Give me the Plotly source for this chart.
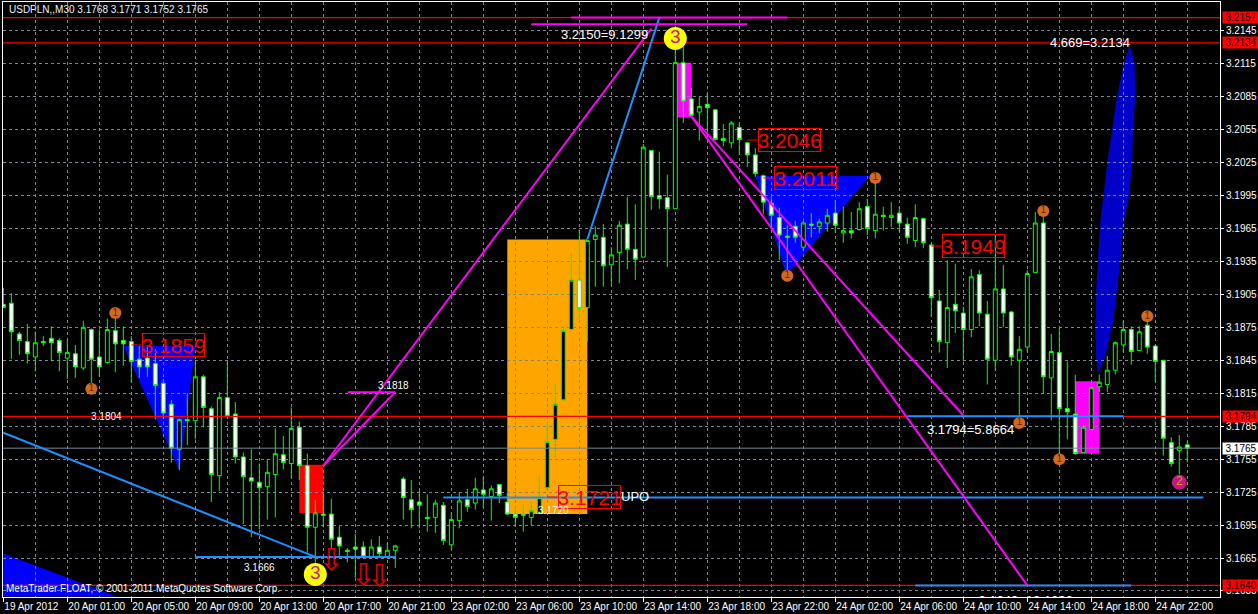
import plotly.graph_objects as go

# ---- candles -------------------------------------------------------------
opens = [3.1896,3.1897,3.1869,3.1862,3.1848,3.1862,3.1865,3.1863,3.1847,3.1851,
         3.1838,3.1873,3.1848,3.1843,3.1872,3.1863,3.1862,3.1846,3.1847,3.1842,
         3.1824,3.1805,3.1764,3.1791,3.1790,3.1830,3.1801,3.1740,3.1811,3.1796,
         3.1757,3.1738,3.1734,3.1730,3.1741,3.1759,3.1751,3.1784,3.1749,3.1693,
         3.1705,3.1705,3.1684,3.1672,3.1675,3.1675,3.1666,3.1675,3.1666,3.1672,
         3.1737,3.1718,3.1716,3.1702,3.1702,3.1713,3.1677,3.1699,3.1718,3.1715,
         3.1727,3.1721,3.1732,3.1716,3.1705,3.1705,3.1702,3.1706,3.1729,3.1773,
         3.1809,3.1873,3.1918,3.1893,3.1955,3.1957,3.1932,3.1943,3.1969,3.1946,
         3.1939,3.2036,3.1995,3.1993,3.1983,3.2116,3.2083,3.2071,3.2078,3.2073,
         3.2047,3.2043,3.2057,3.2043,3.2032,3.2013,3.1988,3.1975,3.1958,3.1967,
         3.1948,3.1969,3.1967,3.1970,3.1979,3.1961,3.1963,3.1964,3.1985,3.1963,
         3.1977,3.1975,3.1979,3.1969,3.1954,3.1974,3.1950,3.1899,3.1861,3.1896,
         3.1888,3.1873,3.1923,3.1887,3.1845,3.1910,3.1889,3.1845,3.1857,3.1925,
         3.1970,3.1829,3.1852,3.1801,3.1796,3.1761,3.1782,3.1821,3.1823,3.1836,
         3.1859,3.1873,3.1854,3.1877,3.1858,3.1845,3.1770,3.1763,3.1768]
closes = [3.1893,3.1871,3.1863,3.1851,3.1861,3.1861,3.1861,3.1852,3.1852,3.1839,
          3.1875,3.1846,3.1839,3.1873,3.1860,3.1860,3.1844,3.1839,3.1839,3.1822,
          3.1797,3.1765,3.1791,3.1790,3.1830,3.1802,3.1741,3.1811,3.1794,3.1757,
          3.1739,3.1735,3.1729,3.1743,3.1760,3.1752,3.1783,3.1749,3.1693,3.1706,
          3.1704,3.1682,3.1676,3.1671,3.1673,3.1666,3.1675,3.1669,3.1672,3.1676,
          3.1720,3.1709,3.1713,3.1701,3.1715,3.1681,3.1700,3.1717,3.1712,3.1728,
          3.1723,3.1728,3.1722,3.1705,3.1702,3.1704,3.1708,3.1720,3.1771,3.1805,
          3.1872,3.1918,3.1892,3.1954,3.1959,3.1931,3.1941,3.1968,3.1946,3.1937,
          3.2039,3.1994,3.1992,3.1983,3.2116,3.2081,3.2068,3.2076,3.2075,3.2046,
          3.2045,3.2061,3.2046,3.2032,3.2015,3.1989,3.1977,3.1959,3.1957,3.1957,
          3.1970,3.1968,3.1971,3.1977,3.1968,3.1963,3.1961,3.1983,3.1965,3.1978,
          3.1976,3.1977,3.1970,3.1957,3.1975,3.1952,3.1902,3.1862,3.1893,3.1890,
          3.1873,3.1921,3.1888,3.1846,3.1910,3.1888,3.1848,3.1855,3.1924,3.1970,
          3.1830,3.1853,3.1801,3.1798,3.1760,3.1784,3.1820,3.1825,3.1836,3.1861,
          3.1873,3.1853,3.1871,3.1857,3.1844,3.1774,3.1751,3.1766,3.1765]
highs = [3.1911,3.1906,3.1871,3.1878,3.1871,3.1867,3.1876,3.1865,3.1864,3.1859,
         3.1881,3.1874,3.1873,3.1883,3.1888,3.1876,3.1867,3.1858,3.1857,3.1855,
         3.1828,3.1809,3.1792,3.1815,3.1845,3.1832,3.1803,3.1816,3.1845,3.1807,
         3.1761,3.1764,3.1751,3.1755,3.1783,3.1776,3.1802,3.1789,3.1760,3.1718,
         3.1724,3.1719,3.1694,3.1674,3.1687,3.1680,3.1682,3.1685,3.1679,3.1677,
         3.1739,3.1736,3.1726,3.1723,3.1718,3.1716,3.1706,3.1725,3.1728,3.1738,
         3.1739,3.1731,3.1732,3.1724,3.1711,3.1714,3.1716,3.1740,3.1788,3.1824,
         3.1876,3.1943,3.1964,3.1954,3.1967,3.1969,3.1948,3.1972,3.1994,3.1987,
         3.2042,3.2036,3.2035,3.2014,3.2128,3.2131,3.2093,3.2085,3.2088,3.2074,
         3.2060,3.2063,3.2061,3.2044,3.2038,3.2014,3.1994,3.1984,3.1968,3.1972,
         3.1972,3.1979,3.1974,3.1983,3.1991,3.1985,3.1980,3.1989,3.1992,3.2016,
         3.1985,3.1989,3.1985,3.1975,3.1987,3.1975,3.1952,3.1909,3.1936,3.1933,
         3.1894,3.1928,3.1927,3.1899,3.1959,3.1932,3.1890,3.1867,3.1927,3.1980,
         3.1982,3.1869,3.1875,3.1844,3.1832,3.1786,3.1821,3.1832,3.1849,3.1862,
         3.1881,3.1876,3.1876,3.1885,3.1859,3.1845,3.1775,3.1777,3.1771]
lows = [3.1893,3.1846,3.1850,3.1842,3.1835,3.1858,3.1844,3.1835,3.1828,3.1829,
        3.1836,3.1818,3.1830,3.1842,3.1834,3.1840,3.1825,3.1829,3.1830,3.1791,
        3.1793,3.1752,3.1745,3.1768,3.1773,3.1784,3.1716,3.1726,3.1792,3.1751,
        3.1696,3.1684,3.1691,3.1700,3.1702,3.1746,3.1738,3.1736,3.1670,3.1659,
        3.1693,3.1674,3.1667,3.1661,3.1647,3.1666,3.1665,3.1666,3.1666,3.1656,
        3.1700,3.1692,3.1692,3.1689,3.1688,3.1677,3.1673,3.1692,3.1707,3.1709,
        3.1711,3.1699,3.1715,3.1704,3.1694,3.1689,3.1695,3.1705,3.1728,3.1756,
        3.1808,3.1873,3.1880,3.1862,3.1912,3.1912,3.1914,3.1915,3.1928,3.1918,
        3.1939,3.1982,3.1983,3.1930,3.1983,3.2061,3.2066,3.2045,3.2052,3.2045,
        3.2040,3.2038,3.2032,3.2021,3.2012,3.1978,3.1965,3.1936,3.1921,3.1952,
        3.1945,3.1957,3.1961,3.1962,3.1961,3.1952,3.1956,3.1963,3.1959,3.1956,
        3.1963,3.1966,3.1962,3.1951,3.1948,3.1947,3.1885,3.1852,3.1838,3.1870,
        3.1844,3.1866,3.1876,3.1823,3.1836,3.1875,3.1840,3.1793,3.1852,3.1925,
        3.1815,3.1790,3.1751,3.1773,3.1759,3.1761,3.1782,3.1816,3.1816,3.1832,
        3.1852,3.1841,3.1854,3.1851,3.1826,3.1758,3.1748,3.1741,3.1752]
bars = list(range(len(opens)))

# ---- axes ----------------------------------------------------------------
x_tick_bars = [0,8,16,24,32,40,48,56,64,72,80,88,96,104,112,120,128,136,144]
x_tick_text = ["19 Apr 2012","20 Apr 01:00","20 Apr 05:00","20 Apr 09:00","20 Apr 13:00",
               "20 Apr 17:00","20 Apr 21:00","23 Apr 02:00","23 Apr 06:00","23 Apr 10:00",
               "23 Apr 14:00","23 Apr 18:00","23 Apr 22:00","24 Apr 02:00","24 Apr 06:00",
               "24 Apr 10:00","24 Apr 14:00","24 Apr 18:00","24 Apr 22:00"]
y_ticks = [3.2145,3.2115,3.2085,3.2055,3.2025,3.1995,3.1965,3.1935,3.1905,3.1875,3.1845,
           3.1815,3.1785,3.1755,3.1725,3.1695,3.1665,3.1635]
y_tick_text = ["%.4f" % v for v in y_ticks]
x_range = [-0.04, 152.09]
y_range = [3.16295, 3.21712]

# ---- price levels --------------------------------------------------------
red_levels = [3.2157, 3.2134, 3.1794, 3.1640]
bid_level = 3.1765

# ---- filled zones: bar from, bar to, price low, price high, colour --------
zone_x0 = [37, 63, 84, 134]
zone_x1 = [40, 73, 86, 137]
zone_lo = [3.1706, 3.1705, 3.2066, 3.1760]
zone_hi = [3.1750, 3.1955, 3.2116, 3.1826]
zone_col = ["#ff0000", "#ffa500", "#ff00ff", "#ff00ff"]

# ---- blue patterns -------------------------------------------------------
tri_bars = [[15, 24, 22], [94, 108.3, 97.9], [0, 14.2, 0]]
tri_prices = [[3.1858, 3.1858, 3.1745], [3.2013, 3.2013, 3.1922], [3.1669, 3.1630, 3.1630]]
leaf_bars = [140.8,141.4,141.5,141.2,141.1,140.7,140,139.7,139.2,138.7,137.7,136.8,
             136.6,136.5,136.6,137.1,137.5,138,138.6,139.2,140.1]
leaf_prices = [3.2132,3.2116,3.2085,3.2055,3.2025,3.1994,3.1970,3.1939,3.1909,3.1879,3.1848,3.1832,
               3.1848,3.1870,3.1909,3.1970,3.1994,3.2025,3.2055,3.2085,3.2116]

# ---- trend lines ---------------------------------------------------------
blue_bars = [[0,39],[24,49],[55,150],[73,82],[113,140],[114,141]]
blue_prices = [[3.1779,3.1666],[3.1666,3.1666],[3.1720,3.1720],[3.1955,3.2157],
               [3.1794,3.1794],[3.1640,3.1640]]
magenta_bars = [[43.05,49,40],[40,81],[71,98],[66,93],[86,120],[86,128]]
magenta_prices = [[3.1816,3.1816,3.1749],[3.1749,3.2147],[3.2157,3.2157],[3.2151,3.2151],
                  [3.2067,3.1795],[3.2067,3.1640]]

# ---- boxed red labels ----------------------------------------------------
box_text = ["3.1859","3.2046","3.2011","3.1949","3.1721"]
box_bar = [17.3,94.3,96.3,117.3,69.3]
box_anchor_bar = [16,93,95,116,68]
box_price = [3.1859,3.20455,3.2011,3.1949,3.17205]

# ---- plain labels --------------------------------------------------------
label_text = ["3.2150=9.1299","4.669=3.2134","3.1794=5.8664","3.1818","3.1804","3.1666","3.1720","UPO"]
label_bar = [75.1,135.8,120.9,48.8,12.9,32,68.8,79]
label_price = [3.2142,3.2134,3.1782,3.1822,3.1794,3.1656,3.1708,3.1721]
label_size = [13,13,13,10,10,10,10,13]

header_text = "USDPLN,,M30 3.1768 3.1771 3.1752 3.1765"
copyright_text = "MetaTrader FLOAT, \u00a9 2001-2011 MetaQuotes Software Corp."
clipped_text = "3.1640=12.1896"

# ---- wave markers --------------------------------------------------------
one_bars = [14,11,98,109,130,127,132,143]
one_prices = [3.1888,3.1819,3.1922,3.2011,3.1981,3.1788,3.1755,3.1885]
two_bars = [147]
two_prices = [3.1734]
three_bars = [39,84]
three_prices = [3.1650,3.2138]
arrow_bars = [41,45,47]
arrow_prices = [3.1661,3.1647,3.1646]

FONT = "Liberation Sans"
fig = go.Figure()

shapes = []
for a, b, lo, hi, c in zip(zone_x0, zone_x1, zone_lo, zone_hi, zone_col):
    shapes.append(dict(type="rect", xref="x", yref="y", x0=a, x1=b, y0=lo, y1=hi,
                       fillcolor=c, line_width=0, layer="below"))
for xs, ys in zip(tri_bars, tri_prices):
    path = "M " + " L ".join(f"{x},{y}" for x, y in zip(xs, ys)) + " Z"
    shapes.append(dict(type="path", xref="x", yref="y", path=path,
                       fillcolor="#0000ff", line_width=0, layer="below"))
path = "M " + " L ".join(f"{x},{y}" for x, y in zip(leaf_bars, leaf_prices)) + " Z"
shapes.append(dict(type="path", xref="x", yref="y", path=path,
                   fillcolor="#0000c8", line_width=0, layer="below"))

fig.add_trace(go.Candlestick(x=bars, open=opens, high=highs, low=lows, close=closes,
                             increasing=dict(fillcolor="#000000", line=dict(color="#00ff00", width=1)),
                             decreasing=dict(fillcolor="#ffffff", line=dict(color="#00ff00", width=1)),
                             whiskerwidth=0, showlegend=False, hoverinfo="skip"))

for lvl in red_levels:
    fig.add_trace(go.Scatter(x=x_range, y=[lvl, lvl], mode="lines",
                             line=dict(color="#ff0000", width=1.3), showlegend=False, hoverinfo="skip"))
fig.add_trace(go.Scatter(x=x_range, y=[bid_level, bid_level], mode="lines",
                         line=dict(color="#778899", width=1), showlegend=False, hoverinfo="skip"))

for xs, ys in zip(blue_bars, blue_prices):
    fig.add_trace(go.Scatter(x=xs, y=ys, mode="lines", line=dict(color="#1e90ff", width=2),
                             showlegend=False, hoverinfo="skip"))
for xs, ys in zip(magenta_bars, magenta_prices):
    fig.add_trace(go.Scatter(x=xs, y=ys, mode="lines", line=dict(color="#ff00ff", width=2),
                             showlegend=False, hoverinfo="skip"))
for a, b, p in zip(box_anchor_bar, box_bar, box_price):
    fig.add_trace(go.Scatter(x=[a, b], y=[p, p], mode="lines", line=dict(color="#ff0000", width=1),
                             showlegend=False, hoverinfo="skip"))

fig.add_trace(go.Scatter(x=one_bars, y=one_prices, mode="markers+text", text=["1"] * len(one_bars),
                         textposition="middle center", textfont=dict(size=10, color="#5a2a00", family=FONT),
                         marker=dict(size=12, color="#d2691e"), showlegend=False, hoverinfo="skip"))
fig.add_trace(go.Scatter(x=two_bars, y=two_prices, mode="markers+text", text=["2"],
                         textposition="middle center", textfont=dict(size=12, color="#d2961e", family=FONT),
                         marker=dict(size=15, color="#c71585"), showlegend=False, hoverinfo="skip"))
fig.add_trace(go.Scatter(x=three_bars, y=three_prices, mode="markers+text", text=["3"] * 2,
                         textposition="middle center", textfont=dict(size=19, color="#c71585", family=FONT),
                         marker=dict(size=23, color="#ffff00"), showlegend=False, hoverinfo="skip"))
fig.add_trace(go.Scatter(x=arrow_bars, y=arrow_prices, mode="text", text=["\u21e9"] * 3,
                         textposition="middle center", textfont=dict(size=30, color="#e00000", family="DejaVu Sans"),
                         showlegend=False, hoverinfo="skip"))
fig.add_trace(go.Scatter(x=[127.8], y=[3.1631], mode="text", text=[clipped_text],
                         textposition="bottom center", textfont=dict(size=13, color="#ffffff", family=FONT),
                         cliponaxis=True, showlegend=False, hoverinfo="skip"))

ann = []
for t, b, p in zip(box_text, box_bar, box_price):
    ann.append(dict(x=b, y=p, xref="x", yref="y", text=t, showarrow=False, xanchor="left", yanchor="middle",
                    font=dict(size=21, color="#ff0000", family=FONT), width=61, height=22,
                    bordercolor="#ff0000", borderwidth=1, borderpad=0))
for t, b, p, s in zip(label_text, label_bar, label_price, label_size):
    ann.append(dict(x=b, y=p, xref="x", yref="y", text=t, showarrow=False, xanchor="center", yanchor="middle",
                    font=dict(size=s, color="#ffffff", family=FONT)))
ann.append(dict(x=0.4, y=3.2164, xref="x", yref="y", text=header_text, showarrow=False, xanchor="left",
                yanchor="middle", font=dict(size=10, color="#e8f4ff", family=FONT)))
ann.append(dict(x=0.1, y=3.1637, xref="x", yref="y", text=copyright_text, showarrow=False, xanchor="left",
                yanchor="middle", font=dict(size=10, color="#ffffff", family=FONT)))
for lvl in red_levels:
    ann.append(dict(x=1, y=lvl, xref="paper", yref="y", text="%.4f" % lvl, showarrow=False, xanchor="left",
                    yanchor="middle", xshift=2, width=36, height=11, bgcolor="#ff0000", borderpad=0,
                    font=dict(size=10, color="#200000", family=FONT)))
ann.append(dict(x=1, y=bid_level, xref="paper", yref="y", text="%.4f" % bid_level, showarrow=False, xanchor="left",
                yanchor="middle", xshift=2, width=36, height=11, bgcolor="#ffffff", borderpad=0,
                font=dict(size=10, color="#000000", family=FONT)))

GRID = "#778899"
fig.update_layout(
    width=1258, height=614, margin=dict(l=3, r=38, t=2, b=17, pad=0),
    paper_bgcolor="#000000", plot_bgcolor="#000000", showlegend=False,
    boxgap=0.3, boxgroupgap=0.3, shapes=shapes, annotations=ann,
    font=dict(family=FONT, color="#ffffff", size=10),
    xaxis=dict(range=x_range, autorange=False, rangeslider=dict(visible=False),
               tickmode="array", tickvals=x_tick_bars, ticktext=x_tick_text,
               ticklabelposition="outside right", tickangle=0, ticks="outside", ticklen=4, tickcolor="#ffffff",
               tickfont=dict(size=10, color="#ffffff", family=FONT),
               showgrid=True, gridcolor=GRID, griddash="3px,3px", gridwidth=1,
               minor=dict(tick0=4, dtick=8, showgrid=True, gridcolor=GRID, griddash="3px,3px", gridwidth=1),
               showline=True, linecolor="#ffffff", linewidth=1, mirror=True, zeroline=False),
    yaxis=dict(range=y_range, autorange=False, side="right",
               tickmode="array", tickvals=y_ticks, ticktext=y_tick_text,
               ticks="outside", ticklen=3, tickcolor="#ffffff",
               tickfont=dict(size=10, color="#ffffff", family=FONT),
               showgrid=True, gridcolor=GRID, griddash="3px,3px", gridwidth=1,
               showline=True, linecolor="#ffffff", linewidth=1, mirror=True, zeroline=False),
)

fig.write_html("out.html", config=dict(displayModeBar=False),
               post_script="document.body.style.margin='0';document.body.style.overflow='hidden';")
